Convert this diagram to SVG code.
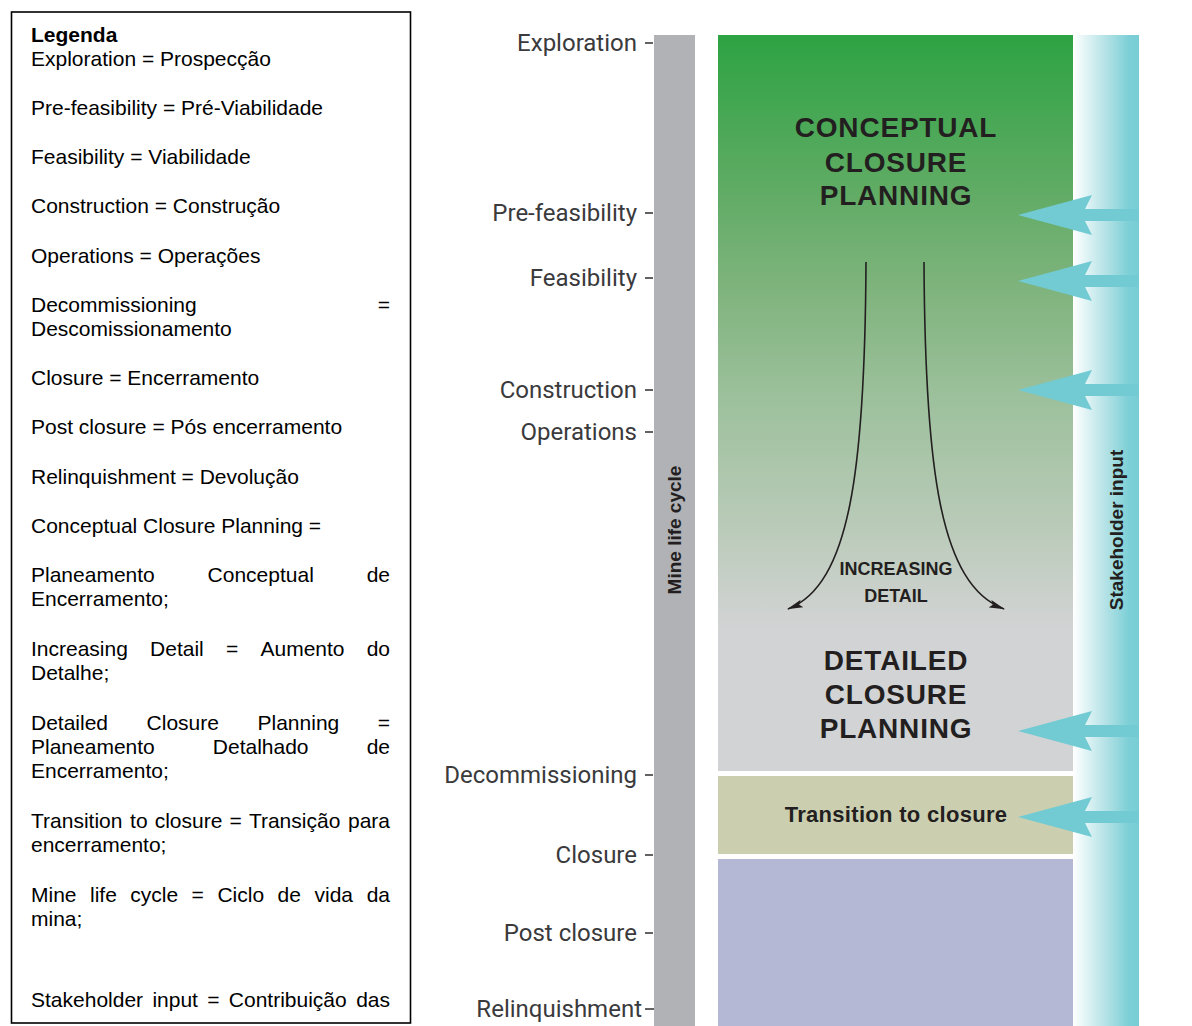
<svg xmlns="http://www.w3.org/2000/svg" width="1192" height="1026" viewBox="0 0 1192 1026">
  <style>
    .leg { font-family: "Liberation Sans", Arial, sans-serif; font-size: 21px; fill: #000; }
    .legb { font-weight: bold; }
    .stage { font-family: Roboto, "Liberation Sans", sans-serif; font-size: 24px; fill: #3a3a3c; text-anchor: end; }
    .tick { stroke: #3a3a3c; stroke-width: 1.6; }
    .big { font-family: "Liberation Sans", Arial, sans-serif; font-weight: bold; font-size: 28px; fill: #231f20; text-anchor: middle; letter-spacing: 0.8px; }
    .mid { font-family: "Liberation Sans", Arial, sans-serif; font-weight: bold; fill: #231f20; text-anchor: middle; }
    .vert { font-family: "Liberation Sans", Arial, sans-serif; font-weight: bold; font-size: 19px; fill: #231f20; text-anchor: middle; }
    .curve { fill: none; stroke: #231f20; stroke-width: 1.6; }
    .input { fill: #72cbd3; }
  </style>
  <defs>
    <linearGradient id="planGrad" x1="0" y1="35" x2="0" y2="771" gradientUnits="userSpaceOnUse">
      <stop offset="0" stop-color="#2da343"/>
      <stop offset="0.22" stop-color="#62ac66"/>
      <stop offset="0.35" stop-color="#80b47e"/>
      <stop offset="0.5" stop-color="#9ec19d"/>
      <stop offset="0.66" stop-color="#b8cab7"/>
      <stop offset="0.77" stop-color="#ccd1cd"/>
      <stop offset="0.81" stop-color="#d2d3d5"/>
      <stop offset="1" stop-color="#d2d3d5"/>
    </linearGradient>
    <linearGradient id="bandGrad" x1="1073" y1="0" x2="1139" y2="0" gradientUnits="userSpaceOnUse">
      <stop offset="0" stop-color="#ffffff"/>
      <stop offset="0.5" stop-color="#b3e2e6"/>
      <stop offset="0.85" stop-color="#7ccfd6"/>
      <stop offset="1" stop-color="#78cdd5"/>
    </linearGradient>
    <marker id="head" viewBox="0 0 16 8" refX="15" refY="4" markerWidth="16" markerHeight="8" markerUnits="userSpaceOnUse" orient="auto">
      <path d="M0,0 L16,4 L0,8 L3,4 Z" fill="#231f20"/>
    </marker>
    <polygon id="inputArrow" points="0,0 74,-20 67,-6 121,-6 121,6 67,6 74,20"/>
  </defs>

  <rect width="1192" height="1026" fill="#ffffff"/>

  <!-- Legend box -->
  <g id="legend">
    <rect x="11.5" y="12" width="399" height="1011" fill="#ffffff" stroke="#000" stroke-width="1.6"/>
    <text class="leg legb" x="31" y="42">Legenda</text>
    <text class="leg" x="31" y="66">Exploration = Prospecção</text>
    <text class="leg" x="31" y="115">Pre-feasibility = Pré-Viabilidade</text>
    <text class="leg" x="31" y="164">Feasibility = Viabilidade</text>
    <text class="leg" x="31" y="213">Construction = Construção</text>
    <text class="leg" x="31" y="263">Operations = Operações</text>
    <text class="leg" y="312"><tspan x="31">Decommissioning</tspan><tspan x="390" text-anchor="end">=</tspan></text>
    <text class="leg" x="31" y="336">Descomissionamento</text>
    <text class="leg" x="31" y="385">Closure = Encerramento</text>
    <text class="leg" x="31" y="434">Post closure = Pós encerramento</text>
    <text class="leg" x="31" y="484">Relinquishment = Devolução</text>
    <text class="leg" x="31" y="533">Conceptual Closure Planning =</text>
    <text class="leg" y="582"><tspan x="31">Planeamento</tspan><tspan x="207.6">Conceptual</tspan><tspan x="390" text-anchor="end">de</tspan></text>
    <text class="leg" x="31" y="606">Encerramento;</text>
    <text class="leg" y="656"><tspan x="31">Increasing</tspan><tspan x="150.1">Detail</tspan><tspan x="226">=</tspan><tspan x="260.5">Aumento</tspan><tspan x="390" text-anchor="end">do</tspan></text>
    <text class="leg" x="31" y="680">Detalhe;</text>
    <text class="leg" y="730"><tspan x="31">Detailed</tspan><tspan x="146.6">Closure</tspan><tspan x="257.5">Planning</tspan><tspan x="390" text-anchor="end">=</tspan></text>
    <text class="leg" y="754"><tspan x="31">Planeamento</tspan><tspan x="212.8">Detalhado</tspan><tspan x="390" text-anchor="end">de</tspan></text>
    <text class="leg" x="31" y="778">Encerramento;</text>
    <text class="leg" y="828"><tspan x="31">Transition</tspan><tspan x="130.1">to</tspan><tspan x="154.7">closure</tspan><tspan x="229.5">=</tspan><tspan x="248.9">Transição</tspan><tspan x="390" text-anchor="end">para</tspan></text>
    <text class="leg" x="31" y="852">encerramento;</text>
    <text class="leg" y="902"><tspan x="31">Mine</tspan><tspan x="90">life</tspan><tspan x="130.3">cycle</tspan><tspan x="191.6">=</tspan><tspan x="217.4">Ciclo</tspan><tspan x="277.6">de</tspan><tspan x="314.5">vida</tspan><tspan x="390" text-anchor="end">da</tspan></text>
    <text class="leg" x="31" y="926">mina;</text>
    <text class="leg" y="1007"><tspan x="31">Stakeholder</tspan><tspan x="152.4">input</tspan><tspan x="207.2">=</tspan><tspan x="228.8">Contribuição</tspan><tspan x="390" text-anchor="end">das</tspan></text>
  </g>

  <!-- Mine life cycle bar with stage labels -->
  <g id="mine-life-cycle">
    <rect x="654" y="35" width="41" height="991" fill="#b1b2b6"/>
    <text class="vert" transform="translate(681,530) rotate(-90)">Mine life cycle</text>
  </g>
  <g id="stages">
    <text class="stage" x="637" y="51">Exploration</text>
    <line class="tick" x1="645" y1="43" x2="653" y2="43"/>
    <text class="stage" x="637" y="221">Pre-feasibility</text>
    <line class="tick" x1="645" y1="213" x2="653" y2="213"/>
    <text class="stage" x="637" y="286">Feasibility</text>
    <line class="tick" x1="645" y1="278" x2="653" y2="278"/>
    <text class="stage" x="637" y="398">Construction</text>
    <line class="tick" x1="645" y1="390" x2="653" y2="390"/>
    <text class="stage" x="637" y="440">Operations</text>
    <line class="tick" x1="645" y1="432" x2="653" y2="432"/>
    <text class="stage" x="637" y="783">Decommissioning</text>
    <line class="tick" x1="645" y1="775" x2="653" y2="775"/>
    <text class="stage" x="637" y="863">Closure</text>
    <line class="tick" x1="645" y1="855" x2="653" y2="855"/>
    <text class="stage" x="637" y="941">Post closure</text>
    <line class="tick" x1="645" y1="933" x2="653" y2="933"/>
    <text class="stage" x="642" y="1017">Relinquishment</text>
    <line class="tick" x1="645" y1="1009" x2="654" y2="1009"/>
  </g>

  <!-- Closure planning panel: conceptual fading into detailed -->
  <g id="closure-planning">
    <rect x="718" y="35" width="355" height="736" fill="url(#planGrad)"/>
    <text class="big" x="896" y="137">CONCEPTUAL</text>
    <text class="big" x="896" y="172">CLOSURE</text>
    <text class="big" x="896" y="205">PLANNING</text>
    <text class="mid" x="896" y="575" font-size="18">INCREASING</text>
    <text class="mid" x="896" y="602" font-size="18">DETAIL</text>
    <text class="big" x="896" y="670">DETAILED</text>
    <text class="big" x="896" y="704">CLOSURE</text>
    <text class="big" x="896" y="738">PLANNING</text>
  </g>

  <g id="transition-to-closure">
    <rect x="718" y="776" width="355" height="78" fill="#cbcfb0"/>
    <text class="mid" x="896" y="822" font-size="22" letter-spacing="0.3">Transition to closure</text>
  </g>

  <g id="post-closure">
    <rect x="718" y="859" width="355" height="167" fill="#b4b8d4"/>
  </g>

  <g id="stakeholder-input">
    <rect x="1073" y="35" width="66" height="991" fill="url(#bandGrad)"/>
    <text class="vert" transform="translate(1123,530) rotate(-90)">Stakeholder input</text>
  </g>

  <!-- Connectors: detail curves and stakeholder input arrows -->
  <g id="connectors">
    <path class="curve" d="M866,262 C865,470 850,585 788,609" marker-end="url(#head)"/>
    <path class="curve" d="M924,262 C925,470 940,585 1004,609" marker-end="url(#head)"/>
    <use href="#inputArrow" class="input" x="1018" y="215"/>
    <use href="#inputArrow" class="input" x="1018" y="281"/>
    <use href="#inputArrow" class="input" x="1018" y="390"/>
    <use href="#inputArrow" class="input" x="1018" y="731"/>
    <use href="#inputArrow" class="input" x="1018" y="817"/>
  </g>
</svg>
